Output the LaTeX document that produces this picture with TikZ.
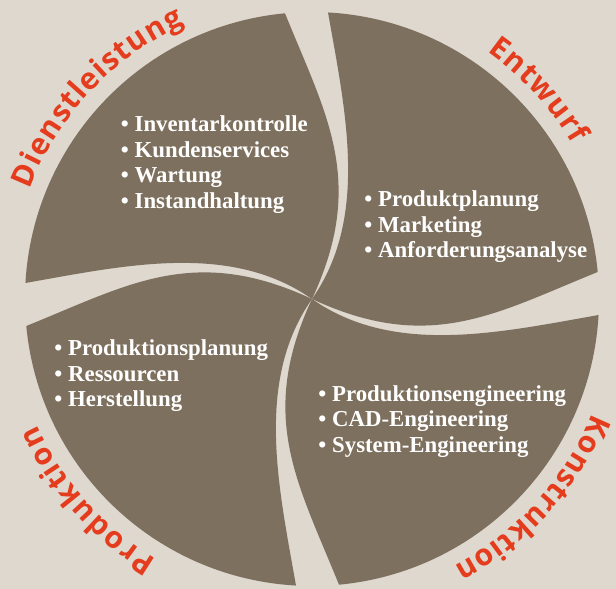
\documentclass[tikz,border=0pt]{standalone}
\usepackage{fontspec}
\setmainfont{Liberation Serif}
\newfontfamily\arcfont{Open Sans}
\usetikzlibrary{decorations.text}

\definecolor{bladebrown}{RGB}{126,112,94}
\definecolor{bgbeige}{RGB}{222,216,207}
\definecolor{labelred}{RGB}{228,60,28}

\tikzset{
  blade/.style={fill=bladebrown},
  itemlist/.style={anchor=base west, align=left, inner sep=0pt, text=white,
    font=\bfseries\fontsize{22.8}{25.5}\selectfont},
  arclabel/.style={decorate, decoration={text along path, text align=fit to path,
    text={|\arcfont\bfseries\fontsize{30}{36}\selectfont\color{labelred}|#1}}}
}

\begin{document}
\begin{tikzpicture}[x=1pt, y=1pt]

    \fill[bgbeige] (-312,-290) rectangle (304,299);

    % the four blades of the wheel
    \foreach \k in {0,...,3}
      \fill[blade, rotate=-90*\k] (0,0) .. controls +(55:100) and +(-80:100) .. (86.8:287)
        arc[start angle=86.8, end angle=5.4, radius=287]
        .. controls +(-158:110) and +(-25:130) .. (0,0) -- cycle;

    % curved labels
    \path[arclabel=Dienstleistung] (158.8:303) arc[start angle=158.8, end angle=114.9, radius=303];
    \path[arclabel=Entwurf] (54.7:303) arc[start angle=54.7, end angle=30.7, radius=303];
    \path[arclabel=Konstruktion] (-22.2:303) arc[start angle=-22.2, end angle=-62, radius=303];
    \path[arclabel=Produktion] (-120.9:303) arc[start angle=-120.9, end angle=-155.4, radius=303];

    % lists (anchored at the last line)
    \node[itemlist] (dienst) at (-191.2,90.7) {\textbullet\ Inventarkontrolle\\ \textbullet\ Kundenservices\\ \textbullet\ Wartung\\ \textbullet\ Instandhaltung};
    \node[itemlist] (entwurf) at (52.3,41) {\textbullet\ Produktplanung\\ \textbullet\ Marketing\\ \textbullet\ Anforderungsanalyse};
    \node[itemlist] (prod) at (-257.7,-107.7) {\textbullet\ Produktionsplanung\\ \textbullet\ Ressourcen\\ \textbullet\ Herstellung};
    \node[itemlist] (konstr) at (6.3,-153) {\textbullet\ Produktionsengineering\\ \textbullet\ CAD-Engineering\\ \textbullet\ System-Engineering};

\end{tikzpicture}
\end{document}
